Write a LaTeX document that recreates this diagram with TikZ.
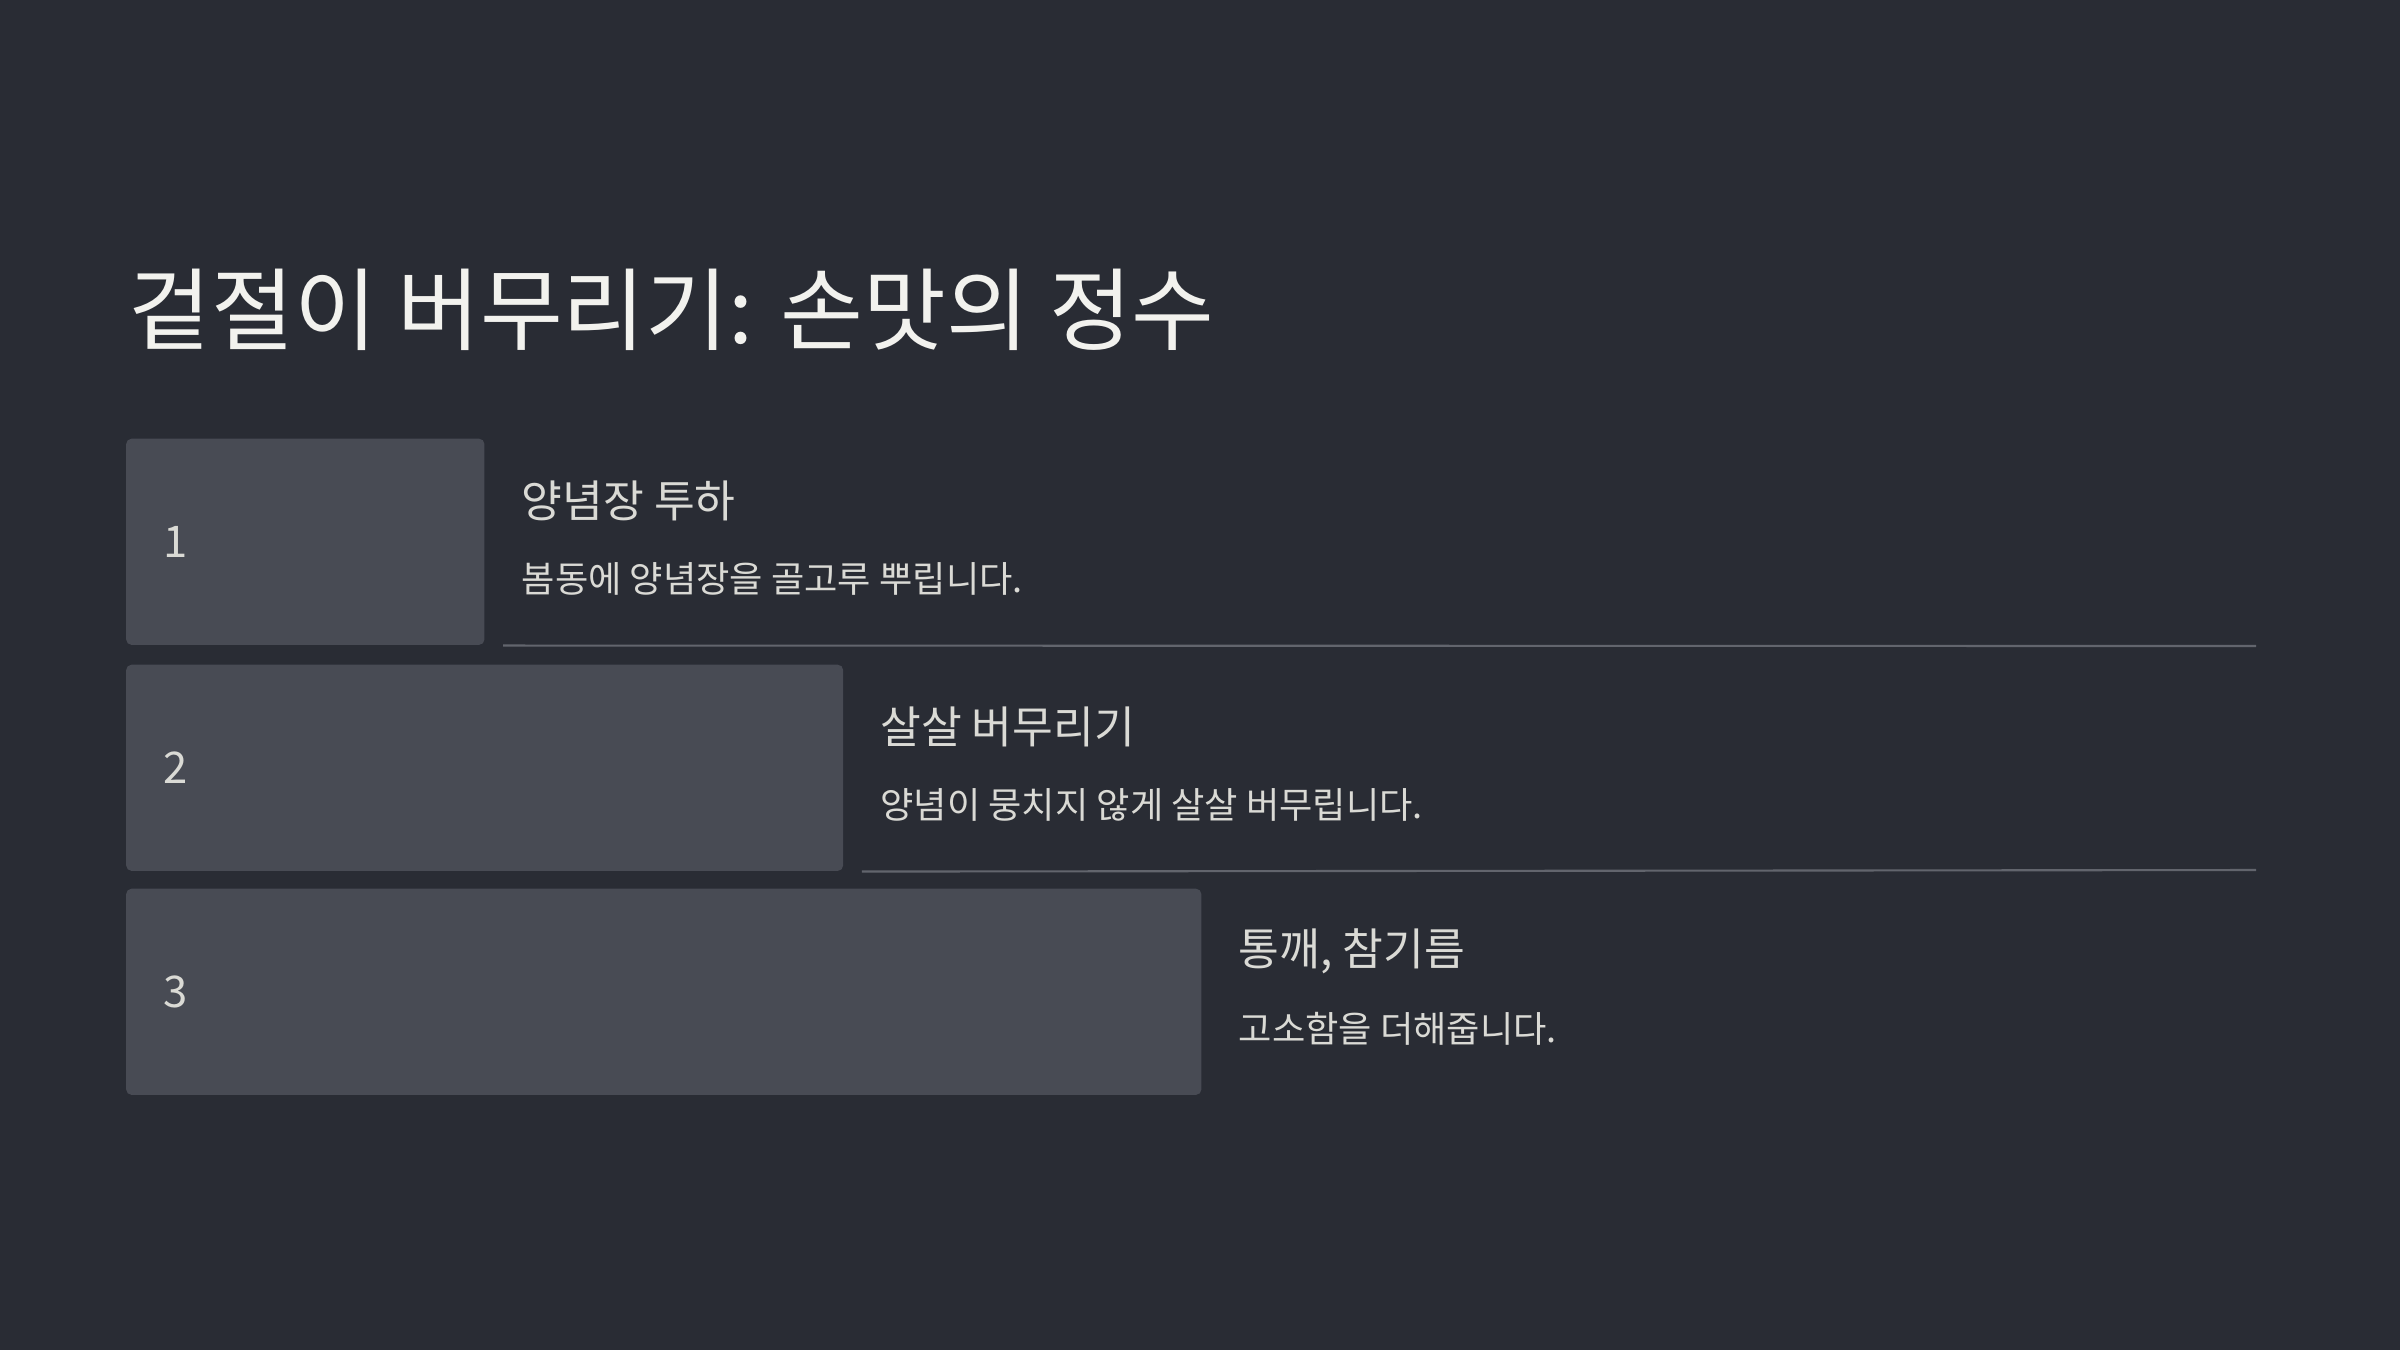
\documentclass[tikz,border=0pt]{standalone}
\usepackage{fontspec}
\setmainfont{Noto Sans CJK KR}
\usepackage{tikz}
\usetikzlibrary{positioning,calc}

\definecolor{bgdark}{HTML}{292C34}
\definecolor{stepfill}{HTML}{484B54}
\definecolor{rulegray}{HTML}{62656D}
\definecolor{titlewhite}{HTML}{F2F2EE}
\definecolor{textgray}{HTML}{DADAD5}

\tikzset{
  stepbox/.style={fill=stepfill, rounded corners=1.5pt, anchor=north west,
    minimum height=2.06cm, inner sep=0pt},
  stepnum/.style={anchor=west, inner sep=0pt, text=textgray, font=\fontsize{12.4pt}{14pt}\selectfont},
  heading/.style={anchor=west, inner sep=0pt, text=textgray, font=\fontsize{12.6pt}{15pt}\selectfont},
  desc/.style={anchor=west, inner sep=0pt, text=textgray, font=\fontsize{10.3pt}{13pt}\selectfont},
  sepline/.style={draw=rulegray, line width=0.6pt}
}

\begin{document}
\begin{tikzpicture}[x=0.01cm, y=-0.01cm]
    % background
    \fill[bgdark] (0,0) rectangle (2400,1350);
    \useasboundingbox (0,0) rectangle (2400,1350);

    \node[anchor=west, inner sep=0pt, text=titlewhite, font=\fontsize{25.6pt}{30pt}\selectfont] (title) at (128,310) {겉절이 버무리기: 손맛의 정수};

    % step boxes
    \node[stepbox, minimum width=3.58cm] (s1) at (125.5,438) {};
    \node[stepbox, minimum width=7.165cm] (s2) at (125.5,664) {};
    \node[stepbox, minimum width=10.745cm] (s3) at (125.5,888) {};

    \node[stepnum] (n1) at ($(s1.west)+(37,0)$) {1};
    \node[stepnum] (n2) at ($(s2.west)+(37,0)$) {2};
    \node[stepnum] (n3) at ($(s3.west)+(37,0)$) {3};

    % step texts
    \node[heading] (h1) at ($(s1.north east)+(36,63)$) {양념장 투하};
    \node[desc] (d1) at ($(s1.north east)+(36,141)$) {봄동에 양념장을 골고루 뿌립니다.};
    \node[heading] (h2) at ($(s2.north east)+(36,63)$) {살살 버무리기};
    \node[desc] (d2) at ($(s2.north east)+(36,141)$) {양념이 뭉치지 않게 살살 버무립니다.};
    \node[heading] (h3) at ($(s3.north east)+(36,63)$) {통깨, 참기름};
    \node[desc] (d3) at ($(s3.north east)+(36,141)$) {고소함을 더해줍니다.};

    % separators
    \coordinate (r1) at ($(s1.south east)+(18,0)$);
    \coordinate (r1end) at (2256,646);
    \coordinate (r2) at ($(s2.south east)+(18,0)$);
    \coordinate (r2end) at (2256,870);
    \draw[sepline] (r1) -- (r1end);
    \draw[sepline] (r2) -- (r2end);
\end{tikzpicture}
\end{document}
